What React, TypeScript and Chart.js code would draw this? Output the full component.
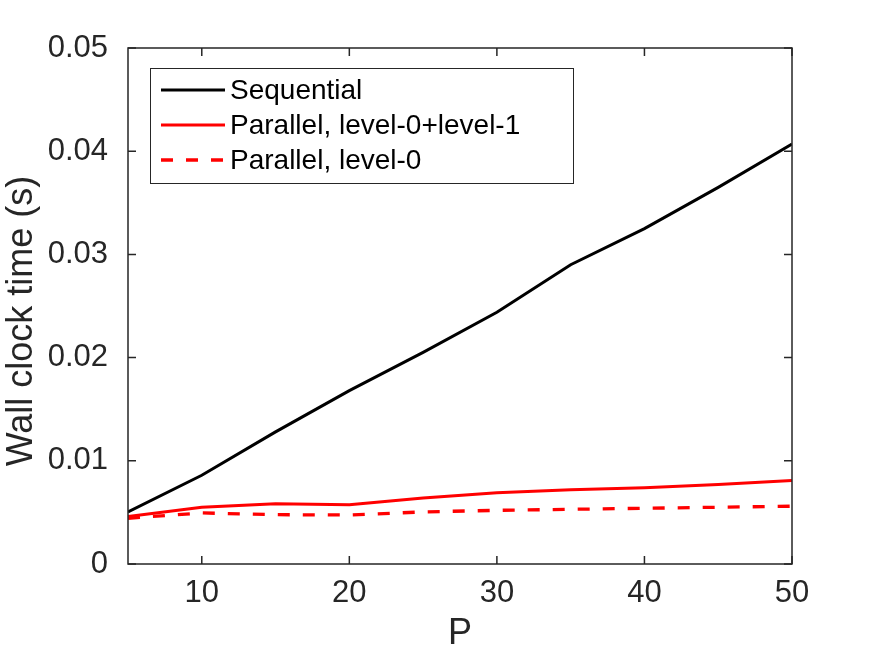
import React, { useEffect, useRef } from "react";
import { Chart, registerables } from "chart.js";

Chart.register(...registerables);

const P = [5, 10, 15, 20, 25, 30, 35, 40, 45, 50];
const sequential = [0.00505, 0.0086, 0.0128, 0.0168, 0.0205, 0.0244, 0.029, 0.0325, 0.0365, 0.0407];
const parallelL01 = [0.00459, 0.0055, 0.00585, 0.00575, 0.0064, 0.0069, 0.0072, 0.0074, 0.0077, 0.0081];
const parallelL0 = [0.00443, 0.00495, 0.00478, 0.00475, 0.00505, 0.0052, 0.0053, 0.0054, 0.0055, 0.0056];
const seriesLabels = ["Sequential", "Parallel, level-0+level-1", "Parallel, level-0"];
const xTicks = [10, 20, 30, 40, 50];
const yTicks = [0, 0.01, 0.02, 0.03, 0.04, 0.05];
const xTitle = "P";
const yTitle = "Wall clock time (s)";

const FONT = "'Liberation Sans', Arial, Helvetica, sans-serif";
const AXIS_COLOR = "#262626";

const frameAndLegend = {
  id: "frameAndLegend",
  afterDraw(chart: any) {
    const ctx = chart.ctx as CanvasRenderingContext2D;
    const { left, right, top, bottom } = chart.chartArea;
    const xs = chart.scales.x;
    const ys = chart.scales.y;
    ctx.save();
    ctx.strokeStyle = AXIS_COLOR;
    ctx.lineWidth = 1.5;
    ctx.strokeRect(left, top, right - left, bottom - top);
    const tl = 8;
    ctx.beginPath();
    xTicks.forEach((v) => {
      const px = xs.getPixelForValue(v);
      ctx.moveTo(px, bottom);
      ctx.lineTo(px, bottom - tl);
      ctx.moveTo(px, top);
      ctx.lineTo(px, top + tl);
    });
    yTicks.forEach((v) => {
      const py = ys.getPixelForValue(v);
      ctx.moveTo(left, py);
      ctx.lineTo(left + tl, py);
      ctx.moveTo(right, py);
      ctx.lineTo(right - tl, py);
    });
    ctx.stroke();

    // y-axis title
    ctx.save();
    ctx.translate(32, (top + bottom) / 2 + 15);
    ctx.rotate(-Math.PI / 2);
    ctx.fillStyle = AXIS_COLOR;
    ctx.font = `36px ${FONT}`;
    ctx.textAlign = "center";
    ctx.textBaseline = "alphabetic";
    ctx.fillText(yTitle, 0, 0);
    ctx.restore();

    // legend box
    const bx = left + 22;
    const by = top + 20;
    const bw = 423;
    const bh = 115;
    ctx.fillStyle = "#ffffff";
    ctx.fillRect(bx, by, bw, bh);
    ctx.lineWidth = 1;
    ctx.strokeStyle = AXIS_COLOR;
    ctx.strokeRect(bx + 0.5, by + 0.5, bw, bh);
    chart.data.datasets.forEach((ds: any, i: number) => {
      const cy = by + 22 + i * 35;
      ctx.beginPath();
      ctx.strokeStyle = ds.borderColor;
      ctx.lineWidth = ds.borderWidth;
      ctx.setLineDash(ds.borderDash || []);
      ctx.moveTo(bx + 11, cy);
      ctx.lineTo(bx + 75, cy);
      ctx.stroke();
      ctx.setLineDash([]);
      ctx.fillStyle = "#000000";
      ctx.font = `28px ${FONT}`;
      ctx.textBaseline = "middle";
      ctx.textAlign = "left";
      ctx.fillText(ds.label, bx + 80, cy + 1);
    });
    ctx.restore();
  },
};

export default function App() {
  const ref = useRef<HTMLCanvasElement | null>(null);
  useEffect(() => {
    if (!ref.current) return;
    const mk = (ys: number[]) => P.map((p, i) => ({ x: p, y: ys[i] }));
    const chart = new Chart(ref.current, {
      type: "line",
      data: {
        datasets: [
          { label: seriesLabels[0], data: mk(sequential), borderColor: "#000000", borderWidth: 3, pointRadius: 0, tension: 0 },
          { label: seriesLabels[1], data: mk(parallelL01), borderColor: "#ff0000", borderWidth: 3, pointRadius: 0, tension: 0 },
          { label: seriesLabels[2], data: mk(parallelL0), borderColor: "#ff0000", borderWidth: 3.3, borderDash: [12, 13], pointRadius: 0, tension: 0 },
        ],
      },
      options: {
        responsive: false,
        animation: false,
        layout: { padding: { left: 0, right: 83, top: 48, bottom: 0 } },
        plugins: { legend: { display: false }, tooltip: { enabled: false } },
        scales: {
          x: {
            type: "linear",
            min: 5,
            max: 50,
            afterBuildTicks: (s: any) => {
              s.ticks = xTicks.map((v) => ({ value: v }));
            },
            afterFit: (s: any) => {
              s.height = 93;
            },
            grid: { display: true, drawOnChartArea: false, drawTicks: false },
            border: { display: false },
            ticks: { color: AXIS_COLOR, font: { family: FONT, size: 31 }, padding: 11, maxRotation: 0 },
            title: { display: true, text: xTitle, color: AXIS_COLOR, font: { family: FONT, size: 36 }, padding: { top: 0, bottom: 1 } },
          },
          y: {
            type: "linear",
            min: 0,
            max: 0.05,
            afterBuildTicks: (s: any) => {
              s.ticks = yTicks.map((v) => ({ value: v }));
            },
            afterFit: (s: any) => {
              s.width = 128;
            },
            grid: { display: true, drawOnChartArea: false, drawTicks: false },
            border: { display: false },
            ticks: {
              color: AXIS_COLOR,
              font: { family: FONT, size: 31 },
              padding: 20,
              callback: (v: any) => (Number(v) === 0 ? "0" : Number(v).toFixed(2)),
            },
            title: { display: false },
          },
        },
      },
      plugins: [frameAndLegend],
    });
    return () => chart.destroy();
  }, []);
  return (
    <div style={{ position: "fixed", left: 0, top: 0, width: 875, height: 657, background: "#ffffff" }}>
      <canvas ref={ref} width={875} height={657} />
    </div>
  );
}
